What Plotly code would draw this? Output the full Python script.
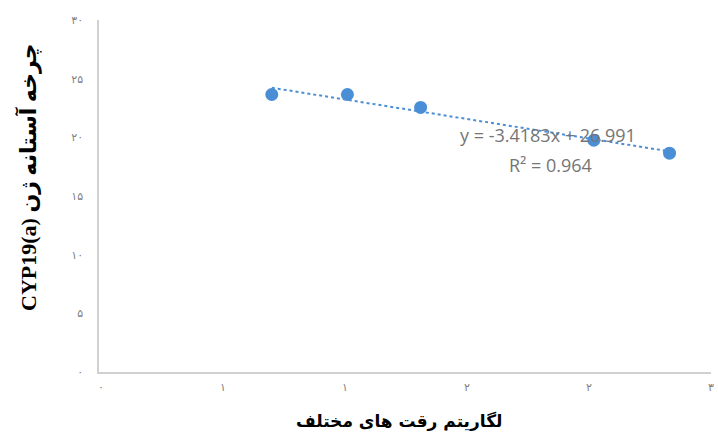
import numpy as np
import plotly.graph_objects as go

# Data
log_dilution = [0.70, 1.01, 1.31, 2.02, 2.33]
ct_values = [23.65, 23.65, 22.55, 19.75, 18.65]
x_tick_vals = [0, 0.5, 1, 1.5, 2, 2.5]
x_tick_text = ["۰", "۱", "۱", "۲", "۲", "۳"]
y_tick_vals = [0, 5, 10, 15, 20, 25, 30]
y_tick_text = ["۰", "۵", "۱۰", "۱۵", "۲۰", "۲۵", "۳۰"]
equation_line = "y = -3.4183x + 26.991"
r2_line = "R² = 0.964"

slope, intercept = np.polyfit(log_dilution, ct_values, 1)
trend_x = [min(log_dilution), max(log_dilution)]
trend_y = [slope * v + intercept for v in trend_x]

blue = "#4a8fd6"

fig = go.Figure()
fig.add_trace(go.Scatter(x=trend_x, y=trend_y, mode="lines",
                         line=dict(color=blue, width=2, dash="dot"),
                         hoverinfo="skip", showlegend=False))
fig.add_trace(go.Scatter(x=log_dilution, y=ct_values, mode="markers",
                         marker=dict(color=blue, size=13),
                         showlegend=False))

fig.update_layout(
    width=718, height=439,
    margin=dict(l=99, r=4, t=20, b=67),
    paper_bgcolor="white", plot_bgcolor="white",
    font=dict(family="DejaVu Sans", color="#7f7f7f"),
    xaxis=dict(range=[-0.008, 2.5], tickvals=x_tick_vals, ticktext=x_tick_text,
               showgrid=False, zeroline=False, showline=True,
               linecolor="#d0d0d0", linewidth=1.5, ticks="",
               ticklabelstandoff=4, tickfont=dict(size=11, color="#7f7f7f")),
    yaxis=dict(range=[0, 30], tickvals=y_tick_vals, ticktext=y_tick_text,
               showgrid=False, zeroline=False, showline=True,
               linecolor="#d0d0d0", linewidth=1.5, ticks="",
               ticklabelstandoff=12, tickfont=dict(size=11, color="#7f7f7f")),
    annotations=[
        dict(text=equation_line, xref="paper", yref="paper",
             x=0.734, y=0.673, xanchor="center", yanchor="middle",
             showarrow=False,
             font=dict(family="Open Sans", size=18, color="#757575")),
        dict(text=r2_line, xref="paper", yref="paper",
             x=0.737, y=0.588, xanchor="center", yanchor="middle",
             showarrow=False,
             font=dict(family="Open Sans", size=18, color="#757575")),
        dict(text="<b>لگاریتم رقت های مختلف</b>", xref="paper", yref="paper",
             x=0.49, y=-0.105, xanchor="center", yanchor="top", showarrow=False,
             font=dict(family="DejaVu Sans", size=17, color="black")),
        dict(text="<b>CYP19(a) چرخه آستانه ژن</b>", xref="paper", yref="paper",
             x=-0.115, y=0.553, xanchor="center", yanchor="middle", textangle=-90,
             showarrow=False,
             font=dict(family="Liberation Serif, DejaVu Sans", size=22, color="black")),
    ],
)

fig.write_html("out.html")
